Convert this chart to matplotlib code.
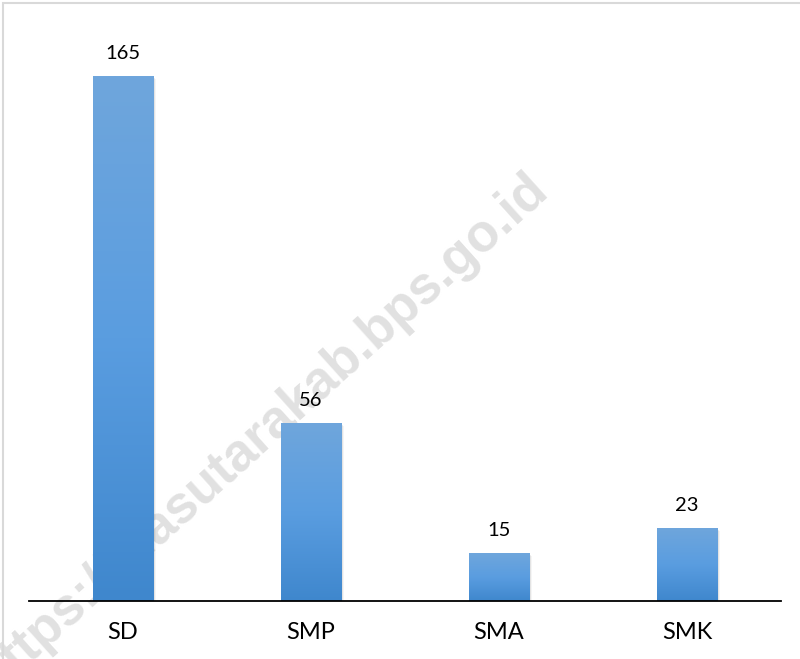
import numpy as np
import matplotlib.pyplot as plt
from matplotlib.colors import LinearSegmentedColormap
from matplotlib.patches import Rectangle

categories = ['SD', 'SMP', 'SMA', 'SMK']
values = [165, 56, 15, 23]

plt.rcParams['font.family'] = ['Lato', 'DejaVu Sans']

fig = plt.figure(figsize=(8, 6.59), dpi=100)
ax = fig.add_axes([29 / 800, 58 / 659, 752 / 800, 581 / 659])

# light frame round the chart area
fig.patches.append(Rectangle((3 / 800, -0.01), 1.02, 1 - 3 / 659 + 0.01,
                             transform=fig.transFigure, fill=False,
                             edgecolor='#d9d9d9', linewidth=1.5, zorder=0))

# watermark behind the bars (drawn inside the axes so bars cover it)
ax.text(0.327, 0.343, 'https://niasutarakab.bps.go.id', fontsize=38,
        fontweight='bold', color='#e1e1e1', rotation=42,
        ha='center', va='center', rotation_mode='anchor',
        family=['Liberation Sans', 'DejaVu Sans'], zorder=0.5,
        transform=fig.transFigure, clip_on=False)

cmap = LinearSegmentedColormap.from_list('bar', ['#3f87cd', '#5a9de0', '#6fa6dc'])
grad = np.linspace(0, 1, 256).reshape(-1, 1)
width = 0.32
x = np.arange(len(categories))

for xi, v in zip(x, values):
    # soft shadow on the right
    for k, a in enumerate([0.10, 0.07, 0.04]):
        ax.add_patch(Rectangle((xi - width / 2 + 0.006 * (k + 1), 0), width, v - 0.3 * (k + 1),
                               facecolor='#000000', alpha=a, edgecolor='none', zorder=1))
    bar = ax.bar(xi, v, width=width, color='none', zorder=2)[0]
    im = ax.imshow(grad, cmap=cmap, aspect='auto', origin='lower',
                   extent=(xi - width / 2, xi + width / 2, 0, v), zorder=2)
    im.set_clip_path(bar)
    ax.text(xi, v + 4.5, str(v), ha='center', va='bottom', fontsize=14.5,
            color='#000000', zorder=3)

ax.set_xlim(-0.5, len(categories) - 0.5)
ax.set_ylim(0, 182.7)
ax.set_xticks(x)
ax.set_xticklabels(categories, fontsize=17)
ax.tick_params(axis='x', length=0, pad=15)
ax.set_yticks([])
for s in ['top', 'right', 'left']:
    ax.spines[s].set_visible(False)
ax.spines['bottom'].set_linewidth(1.3)
ax.spines['bottom'].set_zorder(4)
ax.patch.set_alpha(0)

fig.savefig('out.png', dpi=100)
